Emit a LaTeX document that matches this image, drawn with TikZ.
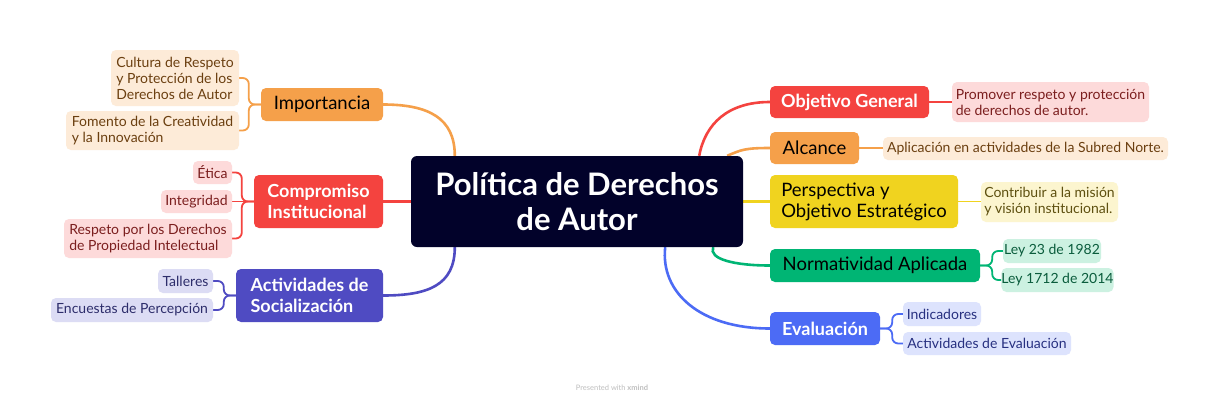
\documentclass[tikz,border=0pt]{standalone}
\usepackage{fontspec}
\setmainfont{Lato}
\usetikzlibrary{calc,backgrounds}
\definecolor{ctrc}{HTML}{02022A}
\definecolor{redc}{HTML}{F4433F}
\definecolor{orgc}{HTML}{F5A04A}
\definecolor{yelc}{HTML}{F0D31F}
\definecolor{grnc}{HTML}{00B574}
\definecolor{bluc}{HTML}{4C6BF5}
\definecolor{purc}{HTML}{4F4BC2}
\definecolor{redl}{HTML}{FDDADA}\definecolor{redt}{HTML}{7B1E1E}
\definecolor{orgl}{HTML}{FDEBD8}\definecolor{orgt}{HTML}{6B3F10}
\definecolor{yell}{HTML}{FCF5CF}\definecolor{yelt}{HTML}{5E5010}
\definecolor{grnl}{HTML}{CCF1E1}\definecolor{grnt}{HTML}{0A5C3C}
\definecolor{blul}{HTML}{DDE3FD}\definecolor{blut}{HTML}{273080}
\definecolor{purl}{HTML}{DCDCF4}\definecolor{purt}{HTML}{2D2D6B}
\tikzset{
  box/.style={rounded corners=5pt, inner sep=0pt, align=left},
  mainbox/.style={box, font=\fontsize{18.5}{21}\selectfont},
  wmain/.style={mainbox, text=white, font=\fontsize{18}{21}\selectfont\bfseries},
  subbox/.style={box, font=\fontsize{14}{16}\selectfont},
  mline/.style={line width=2.6pt},
  sline/.style={line width=1.8pt, rounded corners=6pt},
}
\begin{document}
\begin{tikzpicture}[x=1pt,y=-1pt]
\useasboundingbox (0,0) rectangle (1226,405);

% central
\node[box, fill=ctrc, text=white, align=center, rounded corners=6pt,
  minimum width=332pt, minimum height=91pt,
  font=\fontsize{31}{35}\selectfont\bfseries] (ctr) at (577,201.5) {Política de Derechos\\de Autor};

% right side
\node[wmain, fill=redc, minimum width=159pt, minimum height=32pt] (obj) at (849.5,102) {Objetivo General};
\node[subbox, fill=redl, text=redt, minimum width=197pt, minimum height=40pt] (objc) at (1050.5,102) {Promover respeto y protección\\de derechos de autor.};
\node[mainbox, fill=orgc, minimum width=89pt, minimum height=32pt] (alc) at (814.5,148) {Alcance};
\node[subbox, fill=orgl, text=orgt, minimum width=285pt, minimum height=23pt] (alcc) at (1025.5,148.5) {Aplicación en actividades de la Subred Norte.};
\node[mainbox, fill=yelc, minimum width=188pt, minimum height=53pt] (per) at (864,201.5) {Perspectiva y\\Objetivo Estratégico};
\node[subbox, fill=yell, text=yelt, minimum width=137pt, minimum height=40pt] (perc) at (1049.5,202) {Contribuir a la misión\\y visión institucional.};
\node[mainbox, fill=grnc, minimum width=210pt, minimum height=33pt] (nor) at (875,265.5) {Normatividad Aplicada};
\node[subbox, fill=grnl, text=grnt, minimum width=98pt, minimum height=24pt] (ley1) at (1052,251) {Ley 23 de 1982};
\node[subbox, fill=grnl, text=grnt, minimum width=109pt, minimum height=24pt] (ley2) at (1057.5,280) {Ley 1712 de 2014};
\node[wmain, fill=bluc, minimum width=110pt, minimum height=33pt] (eva) at (825,328.5) {Evaluación};
\node[subbox, fill=blul, text=blut, minimum width=78pt, minimum height=24pt] (ind) at (942,314) {Indicadores};
\node[subbox, fill=blul, text=blut, minimum width=168pt, minimum height=23pt] (act) at (987,343.5) {Actividades de Evaluación};

% left side
\node[mainbox, fill=orgc, minimum width=122pt, minimum height=33pt] (imp) at (322,104.5) {Importancia};
\node[subbox, fill=orgl, text=orgt, minimum width=128pt, minimum height=56pt] (cul) at (175,78) {Cultura de Respeto\\y Protección de los\\Derechos de Autor};
\node[subbox, fill=orgl, text=orgt, minimum width=173pt, minimum height=39pt] (fom) at (152.5,130.5) {Fomento de la Creatividad\\y la Innovación};
\node[wmain, fill=redc, minimum width=129pt, minimum height=53pt] (com) at (318.5,201.5) {Compromiso\\Institucional};
\node[subbox, fill=redl, text=redt, minimum width=39pt, minimum height=23pt] (eti) at (212.5,172.5) {Ética};
\node[subbox, fill=redl, text=redt, minimum width=71pt, minimum height=23pt] (int) at (196.5,201.5) {Integridad};
\node[subbox, fill=redl, text=redt, minimum width=168pt, minimum height=39pt] (res) at (148,238.5) {Respeto por los Derechos\\de Propiedad Intelectual};
\node[wmain, fill=purc, minimum width=147pt, minimum height=53pt] (soc) at (309.5,295.5) {Actividades de\\Socialización};
\node[subbox, fill=purl, text=purt, minimum width=55pt, minimum height=24pt] (tal) at (185.5,281) {Talleres};
\node[subbox, fill=purl, text=purt, minimum width=162pt, minimum height=24pt] (enc) at (132,310) {Encuestas de Percepción};

% footer
\node[text=black!25, font=\fontsize{7.5}{9}\selectfont] (foot) at (612,388) {Presented with \textbf{xmind}};

\begin{pgfonlayer}{background}
\fill[white] (0,0) rectangle (1226,405);
% main branches
\draw[mline, orgc] (imp.east) .. controls +(45,0) and +(0,-38) .. ($(ctr.north west)+(44,0)$);
\draw[mline, redc] (com.east) -- (ctr.west |- com.east);
\draw[mline, purc] (soc.east) .. controls +(45,0) and +(0,38) .. ($(ctr.south west)+(44,0)$);
\draw[mline, redc] (obj.west) .. controls +(-42,0) and +(6,-32) .. ($(ctr.north east)+(-44,0)$);
\draw[mline, orgc] (alc.west) .. controls +(-25,0) and +(14,-6) .. ($(ctr.north east)+(-16,0)$);
\draw[mline, yelc] (per.west) -- (ctr.east |- per.west);
\draw[mline, grnc] (nor.west) .. controls +(-35,0) and +(-5,12) .. ($(ctr.south east)+(-30,0)$);
\draw[mline, bluc] (eva.west) .. controls +(-70,0) and +(-5,45) .. ($(ctr.south east)+(-78,0)$);
% sub branches
\draw[sline, redc] (obj.east) -- (objc.west);
\draw[sline, orgc] (alc.east) -- (alcc.west |- alc.east);
\draw[sline, yelc] (per.east) -- (perc.west |- per.east);
\draw[sline, grnc] (nor.east) -- ++(12,0) |- (ley1.west);
\draw[sline, grnc] (nor.east) -- ++(12,0) |- (ley2.west);
\draw[sline, bluc] (eva.east) -- ++(12,0) |- (ind.west);
\draw[sline, bluc] (eva.east) -- ++(12,0) |- (act.west);
\draw[sline, orgc] (imp.west) -- ++(-12,0) |- (cul.east);
\draw[sline, orgc] (imp.west) -- ++(-12,0) |- (fom.east);
\draw[sline, redc] (com.west) -- ++(-12,0) |- (eti.east);
\draw[sline, redc] (com.west) -- (int.east);
\draw[sline, redc] (com.west) -- ++(-12,0) |- (res.east);
\draw[sline, purc] (soc.west) -- ++(-12,0) |- (tal.east);
\draw[sline, purc] (soc.west) -- ++(-12,0) |- (enc.east);
\end{pgfonlayer}
\end{tikzpicture}
\end{document}
